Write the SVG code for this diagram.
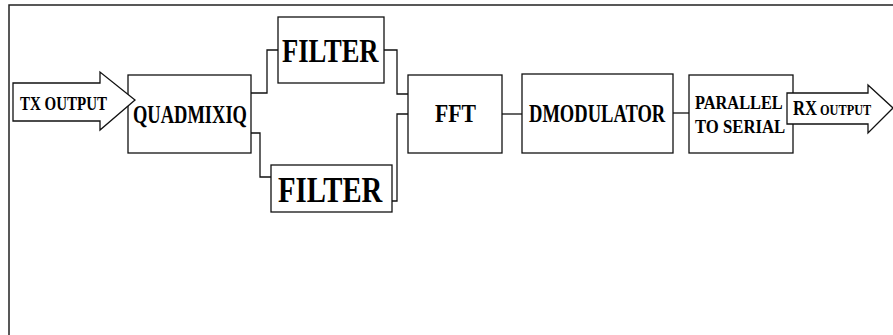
<svg xmlns="http://www.w3.org/2000/svg" width="893" height="335" viewBox="0 0 893 335">
<style>
.box{fill:#fff;stroke:#111;stroke-width:1.3}
.arrow{fill:#fff;stroke:#111;stroke-width:1.3;stroke-linejoin:miter}
.wire{fill:none;stroke:#111;stroke-width:1.3}
text{font-family:"Liberation Serif","Times New Roman",serif;font-weight:bold;fill:#000}
</style>
<rect width="893" height="335" fill="#fff"/>
<path d="M9,335 V5 H893" fill="none" stroke="#222" stroke-width="1.5"/>
<g id="connectors">
<path class="wire" d="M251,93 H267 V50 H278"/>
<path class="wire" d="M251,133 H260 V177 H271"/>
<path class="wire" d="M384,50 H397 V94 H408"/>
<path class="wire" d="M392,201 H397 V114 H408"/>
<path class="wire" d="M502,114 H522"/>
<path class="wire" d="M673,113 H689"/>
</g>
<g id="quadmixiq">
<rect class="box" x="128" y="75" width="123" height="78"/>
<text transform="translate(133,123) scale(0.711,1)" font-size="26">QUADMIXIQ</text>
</g>
<g id="tx-output">
<path class="arrow" d="M13,83 H100 V72 L135,100 L100,130 V121 H13 Z"/>
<text transform="translate(20,110) scale(0.789,1)" font-size="19">TX OUTPUT</text>
</g>
<g id="filter-top">
<rect class="box" x="278" y="17" width="106" height="66"/>
<text transform="translate(282,62) scale(0.806,1)" font-size="33">FILTER</text>
</g>
<g id="filter-bottom">
<rect class="box" x="271" y="165" width="121" height="47"/>
<text transform="translate(278,202) scale(0.821,1)" font-size="35">FILTER</text>
</g>
<g id="fft">
<rect class="box" x="408" y="75" width="94" height="78"/>
<text transform="translate(435,122) scale(0.835,1)" font-size="26">FFT</text>
</g>
<g id="dmodulator">
<rect class="box" x="522" y="74" width="151" height="79"/>
<text transform="translate(529,122) scale(0.713,1)" font-size="26">DMODULATOR</text>
</g>
<g id="parallel-to-serial">
<rect class="box" x="689" y="75" width="104" height="78"/>
<text transform="translate(695,109) scale(0.86,1)" font-size="19">PARALLEL</text>
<text transform="translate(695,133) scale(0.88,1)" font-size="19">TO SERIAL</text>
</g>
<g id="rx-output">
<path class="arrow" d="M787,93 H868 V85 L893,108 L868,133 V124 H787 Z"/>
<text transform="translate(793,115) scale(0.83,1)" font-size="20">RX</text>
<text transform="translate(820,115) scale(0.82,1)" font-size="15">OUTPUT</text>
</g>
</svg>
